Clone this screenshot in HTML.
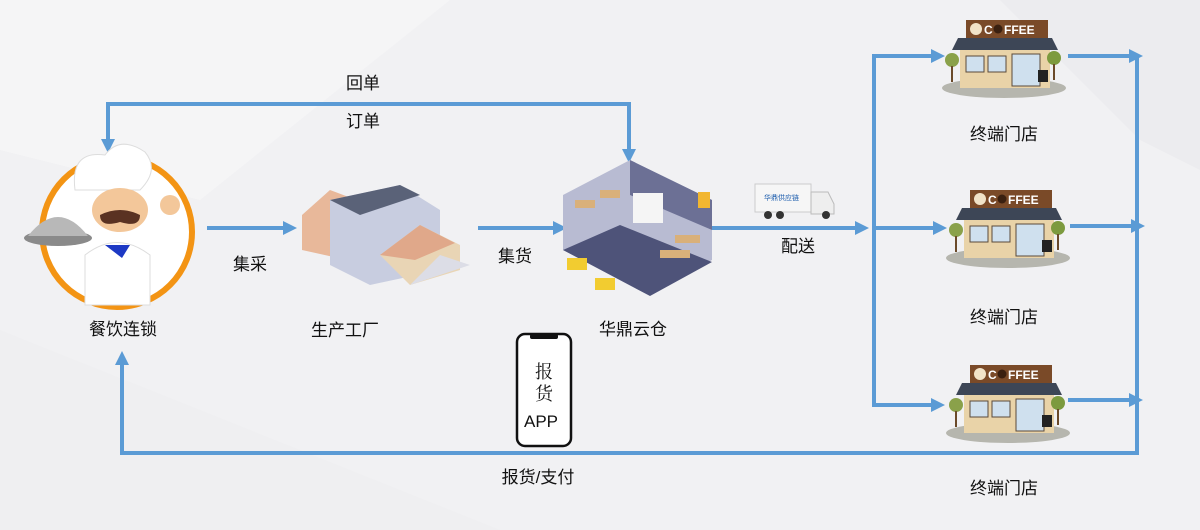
<!DOCTYPE html>
<html><head><meta charset="utf-8"><style>
html,body{margin:0;padding:0;width:1200px;height:530px;overflow:hidden;background:#f1f1f3}
svg{display:block}
text{font-family:"Liberation Sans","Noto Sans CJK SC",sans-serif;fill:#111}
</style></head><body>
<svg width="1200" height="530" viewBox="0 0 1200 530" xmlns="http://www.w3.org/2000/svg">
<defs>
<marker id="a" markerWidth="14" markerHeight="14" refX="9" refY="7" orient="auto" markerUnits="userSpaceOnUse" viewBox="0 0 14 14"><path d="M0,0 L14,7 L0,14z" fill="#5b9bd5"/></marker>
<g id="store">
<ellipse cx="62" cy="68" rx="62" ry="10" fill="#b6b6ae"/>
<rect x="18" y="30" width="90" height="38" fill="#e9d3a8"/>
<rect x="24" y="36" width="18" height="16" fill="#cfe0ee" stroke="#5a4a3a"/>
<rect x="46" y="36" width="18" height="16" fill="#cfe0ee" stroke="#5a4a3a"/>
<rect x="70" y="34" width="28" height="32" fill="#cfe0ee" stroke="#5a4a3a"/>
<polygon points="10,30 16,18 110,18 116,30" fill="#3d4656"/>
<rect x="24" y="0" width="82" height="18" fill="#7a4a28"/>
<circle cx="34" cy="9" r="6" fill="#f1e3c8"/>
<text x="42" y="14" font-size="12" font-weight="bold" style="fill:#fff">C</text>
<circle cx="56" cy="9" r="4.5" fill="#3a2010"/>
<text x="62" y="14" font-size="12" font-weight="bold" style="fill:#fff">FFEE</text>
<circle cx="10" cy="40" r="7" fill="#8aa14a"/><rect x="9" y="46" width="2" height="16" fill="#6b4a2a"/>
<circle cx="112" cy="38" r="7" fill="#7c9a3e"/><rect x="111" y="44" width="2" height="16" fill="#6b4a2a"/>
<rect x="96" y="50" width="10" height="12" fill="#222"/>
</g>
</defs>
<polygon points="0,0 450,0 200,200 0,150" fill="#f5f5f6"/>
<polygon points="1000,0 1200,0 1200,170 1140,140" fill="#ececef"/>
<polygon points="0,330 500,530 0,530" fill="#efeff1"/>

<g stroke="#5b9bd5" stroke-width="4" fill="none">
<polyline points="108,140 108,104 629,104 629,148" />
<line x1="108" y1="120" x2="108" y2="148" marker-end="url(#a)"/>
<line x1="629" y1="130" x2="629" y2="158" marker-end="url(#a)"/>
<line x1="207" y1="228" x2="292" y2="228" marker-end="url(#a)"/>
<line x1="478" y1="228" x2="562" y2="228" marker-end="url(#a)"/>
<line x1="711" y1="228" x2="864" y2="228" marker-end="url(#a)"/>
<polyline points="935,56 874,56 874,405 935,405"/>
<line x1="874" y1="56" x2="940" y2="56" marker-end="url(#a)"/>
<line x1="874" y1="228" x2="942" y2="228" marker-end="url(#a)"/>
<line x1="874" y1="405" x2="940" y2="405" marker-end="url(#a)"/>
<line x1="1068" y1="56" x2="1138" y2="56" marker-end="url(#a)"/>
<line x1="1070" y1="226" x2="1140" y2="226" marker-end="url(#a)"/>
<line x1="1068" y1="400" x2="1138" y2="400" marker-end="url(#a)"/>
<polyline points="1137,56 1137,453 122,453 122,366"/>
<line x1="122" y1="380" x2="122" y2="356" marker-end="url(#a)"/>
</g>

<ellipse cx="117" cy="232" rx="75" ry="75" fill="#fff" stroke="#f39414" stroke-width="6"/>
<path d="M75,190 Q70,150 105,155 Q120,135 145,152 Q160,170 140,190z" fill="#fff" stroke="#ddd"/>
<ellipse cx="120" cy="210" rx="28" ry="22" fill="#f3c79a"/>
<path d="M100,215 Q120,205 140,215 Q140,228 120,222 Q100,228 100,215z" fill="#5a3222"/>
<path d="M85,255 Q117,230 150,255 L150,305 L85,305z" fill="#fff" stroke="#ddd"/>
<polygon points="105,245 130,245 122,258" fill="#1d39c4"/>
<ellipse cx="58" cy="238" rx="34" ry="8" fill="#8a8a8a"/>
<path d="M28,236 Q58,198 88,236z" fill="#b8b8b8"/>
<circle cx="170" cy="205" r="10" fill="#f3c79a"/>

<polygon points="302,215 330,190 370,205 370,265 302,250" fill="#e8b89a"/>
<polygon points="330,200 400,185 440,210 440,270 370,285 330,265" fill="#c8cde0"/>
<polygon points="330,200 400,185 420,195 360,215" fill="#5a6278"/>
<polygon points="380,255 420,225 460,245 460,270 410,285" fill="#e9d5b5"/>
<polygon points="380,255 420,225 455,243 415,260" fill="#e0a88a"/>
<polygon points="410,285 470,265 440,255" fill="#dcdde6"/>

<polygon points="563,195 630,160 712,200 712,260 650,295 563,250" fill="#b8bbd2"/>
<polygon points="563,250 620,225 712,262 650,296" fill="#4e5379"/>
<polygon points="630,160 712,200 712,230 630,195" fill="#6c7095"/>
<rect x="633" y="193" width="30" height="30" fill="#f5f5f5"/>
<g fill="#d9b07a"><rect x="575" y="200" width="20" height="8"/><rect x="600" y="190" width="20" height="8"/><rect x="660" y="250" width="30" height="8"/><rect x="675" y="235" width="25" height="8"/></g>
<rect x="567" y="258" width="20" height="12" fill="#f2cc30"/>
<rect x="595" y="278" width="20" height="12" fill="#f2cc30"/>
<rect x="698" y="192" width="12" height="16" fill="#f2b630"/>

<rect x="755" y="184" width="56" height="28" fill="#f6f6f6" stroke="#ccc"/>
<text x="764" y="200" font-size="7" style="fill:#1f5fae">华鼎供应链</text>
<polygon points="811,192 828,192 834,204 834,214 811,214" fill="#eee" stroke="#bbb"/>
<circle cx="768" cy="215" r="4" fill="#333"/><circle cx="780" cy="215" r="4" fill="#333"/><circle cx="826" cy="215" r="4" fill="#333"/>

<use href="#store" x="942" y="20"/>
<use href="#store" x="946" y="190"/>
<use href="#store" x="946" y="365"/>

<rect x="517" y="334" width="54" height="112" rx="8" fill="#fff" stroke="#111" stroke-width="2.5"/>
<rect x="530" y="334" width="28" height="5" rx="2" fill="#111"/>
<text x="544" y="378" font-size="18" text-anchor="middle" style="font-family:'Noto Serif CJK SC',serif">报</text>
<text x="544" y="400" font-size="18" text-anchor="middle" style="font-family:'Noto Serif CJK SC',serif">货</text>
<text x="541" y="427" font-size="17" text-anchor="middle">APP</text>

<g font-size="17" text-anchor="middle">
<text x="363" y="89">回单</text>
<text x="363" y="127">订单</text>
<text x="250" y="270">集采</text>
<text x="515" y="262">集货</text>
<text x="798" y="252">配送</text>
<text x="123" y="335">餐饮连锁</text>
<text x="345" y="336">生产工厂</text>
<text x="633" y="335">华鼎云仓</text>
<text x="1004" y="140">终端门店</text>
<text x="1004" y="323">终端门店</text>
<text x="1004" y="494">终端门店</text>
<text x="538" y="483">报货/支付</text>
</g>
</svg>
</body></html>
